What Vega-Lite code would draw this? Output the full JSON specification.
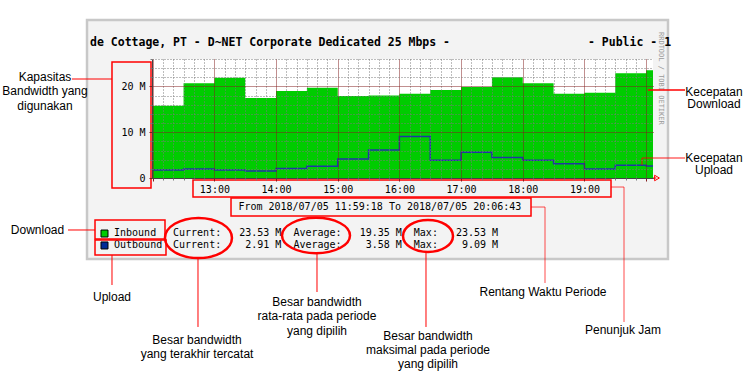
{
 "$schema": "https://vega.github.io/schema/vega-lite/v6.json",
 "width": 501, "height": 119,
 "autosize": {"type": "none"},
 "padding": {"left": 152, "top": 59, "right": 102, "bottom": 197},
 "background": "#ffffff",
 "config": {
  "view": {"stroke": null},
  "style": {
   "ann": {"fill": "#ff0000", "font": "Liberation Sans", "fontSize": 12, "align": "center", "baseline": "middle"},
   "mono": {"fill": "#000000", "font": "DejaVu Sans Mono", "fontSize": 10, "align": "left", "baseline": "middle"}
  }
 },
 "resolve": {"axis": {"x": "independent", "y": "independent"}},
 "datasets": {
  "traffic": [
   {"time": "2018-07-05T11:59:18", "inbound": 15.8, "outbound": 1.75},
   {"time": "2018-07-05T12:30:00", "inbound": 20.7, "outbound": 1.97},
   {"time": "2018-07-05T13:00:00", "inbound": 21.9, "outbound": 1.75},
   {"time": "2018-07-05T13:30:00", "inbound": 17.5, "outbound": 1.53},
   {"time": "2018-07-05T14:00:00", "inbound": 19.0, "outbound": 2.1},
   {"time": "2018-07-05T14:30:00", "inbound": 19.7, "outbound": 2.55},
   {"time": "2018-07-05T15:00:00", "inbound": 17.9, "outbound": 4.15},
   {"time": "2018-07-05T15:30:00", "inbound": 18.0, "outbound": 6.1},
   {"time": "2018-07-05T16:00:00", "inbound": 18.4, "outbound": 9.09},
   {"time": "2018-07-05T16:30:00", "inbound": 19.2, "outbound": 3.9},
   {"time": "2018-07-05T17:00:00", "inbound": 19.9, "outbound": 5.6},
   {"time": "2018-07-05T17:30:00", "inbound": 22.0, "outbound": 4.5},
   {"time": "2018-07-05T18:00:00", "inbound": 20.7, "outbound": 3.9},
   {"time": "2018-07-05T18:30:00", "inbound": 18.4, "outbound": 3.1},
   {"time": "2018-07-05T19:00:00", "inbound": 18.6, "outbound": 1.97},
   {"time": "2018-07-05T19:30:00", "inbound": 22.9, "outbound": 2.8},
   {"time": "2018-07-05T20:00:00", "inbound": 23.53, "outbound": 2.6},
   {"time": "2018-07-05T20:06:43", "inbound": 23.53, "outbound": 2.6}
  ],
  "one": [{}]
 },
 "layer": [
  {"data": {"name": "one"}, "mark": {"type": "rect", "fill": "#f3f3f3", "stroke": "#c8c8c8", "strokeWidth": 2.5},
   "encoding": {
    "x": {"datum": {"year": 2018, "month": 7, "date": 5, "hours": 10, "minutes": 56, "seconds": 4}, "type": "temporal", "axis": null},
    "x2": {"datum": {"year": 2018, "month": 7, "date": 5, "hours": 20, "minutes": 21, "seconds": 18}},
    "y": {"datum": -17.7, "type": "quantitative", "axis": null},
    "y2": {"datum": 34.52}}},
  {"data": {"name": "one"}, "mark": {"type": "rect", "fill": "#ffffff"},
   "encoding": {
    "x": {"datum": {"year": 2018, "month": 7, "date": 5, "hours": 11, "minutes": 59, "seconds": 18}, "type": "temporal", "axis": null},
    "x2": {"datum": {"year": 2018, "month": 7, "date": 5, "hours": 20, "minutes": 6, "seconds": 43}},
    "y": {"datum": 0, "type": "quantitative", "axis": null},
    "y2": {"datum": 26}}},
  {"data": {"name": "traffic"}, "mark": {"type": "area", "interpolate": "step-after", "color": "#00cc00"},
   "encoding": {
    "x": {"field": "time", "type": "temporal", "title": null,
     "scale": {"domain": [{"year": 2018, "month": 7, "date": 5, "hours": 11, "minutes": 59, "seconds": 18}, {"year": 2018, "month": 7, "date": 5, "hours": 20, "minutes": 6, "seconds": 43}], "nice": false},
     "axis": {"orient": "bottom", "title": null, "zindex": 1, "grid": true,
      "values": [
       {"year": 2018, "month": 7, "date": 5, "hours": 12, "minutes": 0},
       {"year": 2018, "month": 7, "date": 5, "hours": 13, "minutes": 0},
       {"year": 2018, "month": 7, "date": 5, "hours": 14, "minutes": 0},
       {"year": 2018, "month": 7, "date": 5, "hours": 15, "minutes": 0},
       {"year": 2018, "month": 7, "date": 5, "hours": 16, "minutes": 0},
       {"year": 2018, "month": 7, "date": 5, "hours": 17, "minutes": 0},
       {"year": 2018, "month": 7, "date": 5, "hours": 18, "minutes": 0},
       {"year": 2018, "month": 7, "date": 5, "hours": 19, "minutes": 0},
       {"year": 2018, "month": 7, "date": 5, "hours": 20, "minutes": 0}],
      "format": "%H:%M",
      "labelExpr": "datum.label == '12:00' || datum.label == '20:00' ? '' : datum.label",
      "gridColor": "#821e1e", "gridDash": [1, 1], "gridOpacity": 1, "gridWidth": 1,
      "tickColor": "#821e1e", "tickSize": 3,
      "labelFont": "DejaVu Sans Mono", "labelFontSize": 10, "labelColor": "#000000", "labelPadding": 3,
      "labelOverlap": false, "labelBound": false, "labelFlush": false,
      "domainColor": "#444444", "domainWidth": 1}},
    "y": {"field": "inbound", "type": "quantitative", "title": null,
     "scale": {"domain": [0, 26], "nice": false, "zero": true},
     "axis": {"orient": "left", "title": null, "zindex": 1, "values": [0, 10, 20], "grid": true,
      "gridColor": "#821e1e", "gridDash": [1, 1], "gridOpacity": 1, "gridWidth": 1,
      "tickColor": "#821e1e", "tickSize": 3,
      "labelExpr": "datum.value == 0 ? '0' : datum.label + ' M'",
      "labelFont": "DejaVu Sans Mono", "labelFontSize": 10, "labelColor": "#000000", "labelPadding": 4,
      "labelOverlap": false, "labelBound": false, "labelFlush": false,
      "domainColor": "#444444", "domainWidth": 1}}}},
  {"data": {"name": "traffic"}, "mark": {"type": "line", "interpolate": "step-after", "color": "#1f35a5", "strokeWidth": 1.5},
   "encoding": {
    "x": {"field": "time", "type": "temporal",
     "axis": {"orient": "bottom", "title": null, "zindex": 1, "grid": true, "labels": false, "domain": false,
      "values": [
       {"year": 2018, "month": 7, "date": 5, "hours": 12, "minutes": 10}, {"year": 2018, "month": 7, "date": 5, "hours": 12, "minutes": 20}, {"year": 2018, "month": 7, "date": 5, "hours": 12, "minutes": 30}, {"year": 2018, "month": 7, "date": 5, "hours": 12, "minutes": 40}, {"year": 2018, "month": 7, "date": 5, "hours": 12, "minutes": 50},
       {"year": 2018, "month": 7, "date": 5, "hours": 13, "minutes": 10}, {"year": 2018, "month": 7, "date": 5, "hours": 13, "minutes": 20}, {"year": 2018, "month": 7, "date": 5, "hours": 13, "minutes": 30}, {"year": 2018, "month": 7, "date": 5, "hours": 13, "minutes": 40}, {"year": 2018, "month": 7, "date": 5, "hours": 13, "minutes": 50},
       {"year": 2018, "month": 7, "date": 5, "hours": 14, "minutes": 10}, {"year": 2018, "month": 7, "date": 5, "hours": 14, "minutes": 20}, {"year": 2018, "month": 7, "date": 5, "hours": 14, "minutes": 30}, {"year": 2018, "month": 7, "date": 5, "hours": 14, "minutes": 40}, {"year": 2018, "month": 7, "date": 5, "hours": 14, "minutes": 50},
       {"year": 2018, "month": 7, "date": 5, "hours": 15, "minutes": 10}, {"year": 2018, "month": 7, "date": 5, "hours": 15, "minutes": 20}, {"year": 2018, "month": 7, "date": 5, "hours": 15, "minutes": 30}, {"year": 2018, "month": 7, "date": 5, "hours": 15, "minutes": 40}, {"year": 2018, "month": 7, "date": 5, "hours": 15, "minutes": 50},
       {"year": 2018, "month": 7, "date": 5, "hours": 16, "minutes": 10}, {"year": 2018, "month": 7, "date": 5, "hours": 16, "minutes": 20}, {"year": 2018, "month": 7, "date": 5, "hours": 16, "minutes": 30}, {"year": 2018, "month": 7, "date": 5, "hours": 16, "minutes": 40}, {"year": 2018, "month": 7, "date": 5, "hours": 16, "minutes": 50},
       {"year": 2018, "month": 7, "date": 5, "hours": 17, "minutes": 10}, {"year": 2018, "month": 7, "date": 5, "hours": 17, "minutes": 20}, {"year": 2018, "month": 7, "date": 5, "hours": 17, "minutes": 30}, {"year": 2018, "month": 7, "date": 5, "hours": 17, "minutes": 40}, {"year": 2018, "month": 7, "date": 5, "hours": 17, "minutes": 50},
       {"year": 2018, "month": 7, "date": 5, "hours": 18, "minutes": 10}, {"year": 2018, "month": 7, "date": 5, "hours": 18, "minutes": 20}, {"year": 2018, "month": 7, "date": 5, "hours": 18, "minutes": 30}, {"year": 2018, "month": 7, "date": 5, "hours": 18, "minutes": 40}, {"year": 2018, "month": 7, "date": 5, "hours": 18, "minutes": 50},
       {"year": 2018, "month": 7, "date": 5, "hours": 19, "minutes": 10}, {"year": 2018, "month": 7, "date": 5, "hours": 19, "minutes": 20}, {"year": 2018, "month": 7, "date": 5, "hours": 19, "minutes": 30}, {"year": 2018, "month": 7, "date": 5, "hours": 19, "minutes": 40}, {"year": 2018, "month": 7, "date": 5, "hours": 19, "minutes": 50}],
      "gridColor": "#7a7a7a", "gridDash": [1, 2], "gridOpacity": 1, "gridWidth": 1,
      "tickColor": "#7a7a7a", "tickSize": 2}},
    "y": {"field": "outbound", "type": "quantitative",
     "axis": {"orient": "left", "title": null, "zindex": 1, "grid": true, "labels": false, "domain": false,
      "values": [2, 4, 6, 8, 12, 14, 16, 18, 22, 24, 26],
      "gridColor": "#7a7a7a", "gridDash": [1, 2], "gridOpacity": 1, "gridWidth": 1,
      "tickColor": "#7a7a7a", "tickSize": 2}}}},

  {"data": {"name": "one"}, "mark": {"type": "rule", "color": "#ff0000", "strokeWidth": 1},
   "encoding": {
    "x": {"datum": {"year": 2018, "month": 7, "date": 5, "hours": 20, "minutes": 6, "seconds": 43}, "type": "temporal", "axis": null},
    "x2": {"datum": {"year": 2018, "month": 7, "date": 5, "hours": 20, "minutes": 10, "seconds": 0}},
    "y": {"datum": 0, "type": "quantitative", "axis": null}}},
  {"data": {"name": "one"}, "mark": {"type": "point", "shape": "triangle-right", "size": 30, "filled": false, "stroke": "#ff0000", "strokeWidth": 1, "opacity": 1},
   "encoding": {
    "x": {"datum": {"year": 2018, "month": 7, "date": 5, "hours": 20, "minutes": 10, "seconds": 36}, "type": "temporal", "axis": null},
    "y": {"datum": 0, "type": "quantitative", "axis": null}}},

  {"data": {"name": "one"}, "mark": {"type": "text", "style": "mono", "fontSize": 11.5, "fontWeight": "bold", "text": "de Cottage, PT - D~NET Corporate Dedicated 25 Mbps -"},
   "encoding": {
    "x": {"datum": {"year": 2018, "month": 7, "date": 5, "hours": 10, "minutes": 59, "seconds": 0}, "type": "temporal", "axis": null},
    "y": {"datum": 29.5, "type": "quantitative", "axis": null}}},
  {"data": {"name": "one"}, "mark": {"type": "text", "style": "mono", "fontSize": 11.5, "fontWeight": "bold", "text": "- Public - 1"},
   "encoding": {
    "x": {"datum": {"year": 2018, "month": 7, "date": 5, "hours": 19, "minutes": 3, "seconds": 29}, "type": "temporal", "axis": null},
    "y": {"datum": 29.5, "type": "quantitative", "axis": null}}},
  {"data": {"name": "one"}, "mark": {"type": "text", "style": "mono", "fontSize": 7, "fill": "#9a9a9a", "angle": 90, "text": "RRDTOOL / TOBI OETIKER"},
   "encoding": {
    "x": {"datum": {"year": 2018, "month": 7, "date": 5, "hours": 20, "minutes": 14, "seconds": 30}, "type": "temporal", "axis": null},
    "y": {"datum": 31.9, "type": "quantitative", "axis": null}}},
  {"data": {"name": "one"}, "mark": {"type": "text", "style": "mono", "align": "center", "text": "From 2018/07/05 11:59:18 To 2018/07/05 20:06:43"},
   "encoding": {
    "x": {"datum": {"year": 2018, "month": 7, "date": 5, "hours": 15, "minutes": 41, "seconds": 0}, "type": "temporal", "axis": null},
    "y": {"datum": -6.34, "type": "quantitative", "axis": null}}},
  {"data": {"name": "one"}, "mark": {"type": "point", "shape": "square", "size": 49, "filled": true, "fill": "#00cc00", "stroke": "#000000", "strokeWidth": 1, "opacity": 1},
   "encoding": {
    "x": {"datum": {"year": 2018, "month": 7, "date": 5, "hours": 11, "minutes": 13, "seconds": 5}, "type": "temporal", "axis": null},
    "y": {"datum": -12.13, "type": "quantitative", "axis": null}}},
  {"data": {"name": "one"}, "mark": {"type": "point", "shape": "square", "size": 49, "filled": true, "fill": "#002a97", "stroke": "#000000", "strokeWidth": 1, "opacity": 1},
   "encoding": {
    "x": {"datum": {"year": 2018, "month": 7, "date": 5, "hours": 11, "minutes": 13, "seconds": 5}, "type": "temporal", "axis": null},
    "y": {"datum": -14.74, "type": "quantitative", "axis": null}}},
  {"data": {"name": "one"}, "mark": {"type": "text", "style": "mono", "text": "Inbound"},
   "encoding": {
    "x": {"datum": {"year": 2018, "month": 7, "date": 5, "hours": 11, "minutes": 22, "seconds": 20}, "type": "temporal", "axis": null},
    "y": {"datum": -12.02, "type": "quantitative", "axis": null}}},
  {"data": {"name": "one"}, "mark": {"type": "text", "style": "mono", "text": "Outbound"},
   "encoding": {
    "x": {"datum": {"year": 2018, "month": 7, "date": 5, "hours": 11, "minutes": 22, "seconds": 20}, "type": "temporal", "axis": null},
    "y": {"datum": -14.64, "type": "quantitative", "axis": null}}},
  {"data": {"name": "one"}, "mark": {"type": "text", "style": "mono", "text": "Current:\u00a0\u00a0\u00a023.53\u00a0M\u00a0\u00a0Average:\u00a0\u00a0\u00a019.35\u00a0M\u00a0\u00a0Max:\u00a0\u00a0\u00a023.53\u00a0M"},
   "encoding": {
    "x": {"datum": {"year": 2018, "month": 7, "date": 5, "hours": 12, "minutes": 19, "seconds": 44}, "type": "temporal", "axis": null},
    "y": {"datum": -12.02, "type": "quantitative", "axis": null}}},
  {"data": {"name": "one"}, "mark": {"type": "text", "style": "mono", "text": "Current:\u00a0\u00a0\u00a0\u00a02.91\u00a0M\u00a0\u00a0Average:\u00a0\u00a0\u00a0\u00a03.58\u00a0M\u00a0\u00a0Max:\u00a0\u00a0\u00a0\u00a09.09\u00a0M"},
   "encoding": {
    "x": {"datum": {"year": 2018, "month": 7, "date": 5, "hours": 12, "minutes": 19, "seconds": 44}, "type": "temporal", "axis": null},
    "y": {"datum": -14.64, "type": "quantitative", "axis": null}}},

  {"data": {"name": "one"}, "mark": {"type": "rect", "filled": false, "color": "#ff0000", "strokeWidth": 1.5},
   "encoding": {
    "x": {"datum": {"year": 2018, "month": 7, "date": 5, "hours": 11, "minutes": 20, "seconds": 23}, "type": "temporal", "axis": null},
    "x2": {"datum": {"year": 2018, "month": 7, "date": 5, "hours": 11, "minutes": 58, "seconds": 20}},
    "y": {"datum": 25.34, "type": "quantitative", "axis": null},
    "y2": {"datum": -2.18}}},
  {"data": {"name": "one"}, "mark": {"type": "rect", "filled": false, "color": "#ff0000", "strokeWidth": 1.5},
   "encoding": {
    "x": {"datum": {"year": 2018, "month": 7, "date": 5, "hours": 12, "minutes": 39, "seconds": 11}, "type": "temporal", "axis": null},
    "x2": {"datum": {"year": 2018, "month": 7, "date": 5, "hours": 19, "minutes": 25, "seconds": 52}},
    "y": {"datum": -0.44, "type": "quantitative", "axis": null},
    "y2": {"datum": -4.15}}},
  {"data": {"name": "one"}, "mark": {"type": "rect", "filled": false, "color": "#ff0000", "strokeWidth": 1.5},
   "encoding": {
    "x": {"datum": {"year": 2018, "month": 7, "date": 5, "hours": 13, "minutes": 16, "seconds": 10}, "type": "temporal", "axis": null},
    "x2": {"datum": {"year": 2018, "month": 7, "date": 5, "hours": 18, "minutes": 8, "seconds": 2}},
    "y": {"datum": -4.37, "type": "quantitative", "axis": null},
    "y2": {"datum": -8.3}}},
  {"data": {"name": "one"}, "mark": {"type": "rect", "filled": false, "color": "#ff0000", "strokeWidth": 1.5},
   "encoding": {
    "x": {"datum": {"year": 2018, "month": 7, "date": 5, "hours": 11, "minutes": 3, "seconds": 51}, "type": "temporal", "axis": null},
    "x2": {"datum": {"year": 2018, "month": 7, "date": 5, "hours": 12, "minutes": 11, "seconds": 57}},
    "y": {"datum": -9.18, "type": "quantitative", "axis": null},
    "y2": {"datum": -13.33}}},
  {"data": {"name": "one"}, "mark": {"type": "rect", "filled": false, "color": "#ff0000", "strokeWidth": 1.5},
   "encoding": {
    "x": {"datum": {"year": 2018, "month": 7, "date": 5, "hours": 11, "minutes": 3, "seconds": 51}, "type": "temporal", "axis": null},
    "x2": {"datum": {"year": 2018, "month": 7, "date": 5, "hours": 12, "minutes": 12, "seconds": 55}},
    "y": {"datum": -13.55, "type": "quantitative", "axis": null},
    "y2": {"datum": -16.82}}},

  {"data": {"name": "one"}, "mark": {"type": "point", "shape": "M-1,0A1,0.6,0,1,1,1,0A1,0.6,0,1,1,-1,0Z", "size": 4489, "filled": false, "stroke": "#ff0000", "strokeWidth": 2.5, "opacity": 1},
   "encoding": {
    "x": {"datum": {"year": 2018, "month": 7, "date": 5, "hours": 12, "minutes": 44, "seconds": 30}, "type": "temporal", "axis": null},
    "y": {"datum": -13.11, "type": "quantitative", "axis": null}}},
  {"data": {"name": "one"}, "mark": {"type": "point", "shape": "M-1,0A1,0.52,0,1,1,1,0A1,0.52,0,1,1,-1,0Z", "size": 4624, "filled": false, "stroke": "#ff0000", "strokeWidth": 2.5, "opacity": 1},
   "encoding": {
    "x": {"datum": {"year": 2018, "month": 7, "date": 5, "hours": 14, "minutes": 38, "seconds": 51}, "type": "temporal", "axis": null},
    "y": {"datum": -12.56, "type": "quantitative", "axis": null}}},
  {"data": {"name": "one"}, "mark": {"type": "point", "shape": "M-1,0A1,0.64,0,1,1,1,0A1,0.64,0,1,1,-1,0Z", "size": 2500, "filled": false, "stroke": "#ff0000", "strokeWidth": 2.5, "opacity": 1},
   "encoding": {
    "x": {"datum": {"year": 2018, "month": 7, "date": 5, "hours": 16, "minutes": 27, "seconds": 49}, "type": "temporal", "axis": null},
    "y": {"datum": -12.67, "type": "quantitative", "axis": null}}},

  {"data": {"name": "one"}, "mark": {"type": "rule", "color": "#ff0000", "strokeWidth": 1},
   "encoding": {
    "x": {"datum": {"year": 2018, "month": 7, "date": 5, "hours": 10, "minutes": 41, "seconds": 28}, "type": "temporal", "axis": null},
    "x2": {"datum": {"year": 2018, "month": 7, "date": 5, "hours": 11, "minutes": 20, "seconds": 23}},
    "y": {"datum": 21.63, "type": "quantitative", "axis": null}}},
  {"data": {"name": "one"}, "mark": {"type": "rule", "color": "#ff0000", "strokeWidth": 1.5},
   "encoding": {
    "x": {"datum": {"year": 2018, "month": 7, "date": 5, "hours": 20, "minutes": 1, "seconds": 52}, "type": "temporal", "axis": null},
    "x2": {"datum": {"year": 2018, "month": 7, "date": 5, "hours": 20, "minutes": 37, "seconds": 51}},
    "y": {"datum": 19.23, "type": "quantitative", "axis": null}}},
  {"data": {"name": "one"}, "mark": {"type": "rule", "color": "#ff0000", "strokeWidth": 1.5, "opacity": 0.6},
   "encoding": {
    "x": {"datum": {"year": 2018, "month": 7, "date": 5, "hours": 19, "minutes": 56, "seconds": 1}, "type": "temporal", "axis": null},
    "x2": {"datum": {"year": 2018, "month": 7, "date": 5, "hours": 20, "minutes": 37, "seconds": 51}},
    "y": {"datum": 4.37, "type": "quantitative", "axis": null}}},
  {"data": {"name": "one"}, "mark": {"type": "rule", "color": "#ff0000", "strokeWidth": 1.5, "opacity": 0.6},
   "encoding": {
    "x": {"datum": {"year": 2018, "month": 7, "date": 5, "hours": 19, "minutes": 56, "seconds": 1}, "type": "temporal", "axis": null},
    "y": {"datum": 4.37, "type": "quantitative", "axis": null},
    "y2": {"datum": 2.84}}},
  {"data": {"name": "one"}, "mark": {"type": "rule", "color": "#ff0000", "strokeWidth": 1, "opacity": 0.7},
   "encoding": {
    "x": {"datum": {"year": 2018, "month": 7, "date": 5, "hours": 19, "minutes": 25, "seconds": 52}, "type": "temporal", "axis": null},
    "x2": {"datum": {"year": 2018, "month": 7, "date": 5, "hours": 19, "minutes": 38, "seconds": 31}},
    "y": {"datum": -1.97, "type": "quantitative", "axis": null}}},
  {"data": {"name": "one"}, "mark": {"type": "rule", "color": "#ff0000", "strokeWidth": 1, "opacity": 0.7},
   "encoding": {
    "x": {"datum": {"year": 2018, "month": 7, "date": 5, "hours": 19, "minutes": 38, "seconds": 31}, "type": "temporal", "axis": null},
    "y": {"datum": -1.97, "type": "quantitative", "axis": null},
    "y2": {"datum": -31.46}}},
  {"data": {"name": "one"}, "mark": {"type": "rule", "color": "#ff0000", "strokeWidth": 1, "opacity": 0.7},
   "encoding": {
    "x": {"datum": {"year": 2018, "month": 7, "date": 5, "hours": 18, "minutes": 8, "seconds": 2}, "type": "temporal", "axis": null},
    "x2": {"datum": {"year": 2018, "month": 7, "date": 5, "hours": 18, "minutes": 21, "seconds": 39}},
    "y": {"datum": -6.34, "type": "quantitative", "axis": null}}},
  {"data": {"name": "one"}, "mark": {"type": "rule", "color": "#ff0000", "strokeWidth": 1, "opacity": 0.7},
   "encoding": {
    "x": {"datum": {"year": 2018, "month": 7, "date": 5, "hours": 18, "minutes": 21, "seconds": 39}, "type": "temporal", "axis": null},
    "y": {"datum": -6.34, "type": "quantitative", "axis": null},
    "y2": {"datum": -22.94}}},
  {"data": {"name": "one"}, "mark": {"type": "rule", "color": "#ff0000", "strokeWidth": 1},
   "encoding": {
    "x": {"datum": {"year": 2018, "month": 7, "date": 5, "hours": 10, "minutes": 37, "seconds": 35}, "type": "temporal", "axis": null},
    "x2": {"datum": {"year": 2018, "month": 7, "date": 5, "hours": 11, "minutes": 3, "seconds": 51}},
    "y": {"datum": -11.36, "type": "quantitative", "axis": null}}},
  {"data": {"name": "one"}, "mark": {"type": "rule", "color": "#ff0000", "strokeWidth": 1},
   "encoding": {
    "x": {"datum": {"year": 2018, "month": 7, "date": 5, "hours": 11, "minutes": 20, "seconds": 23}, "type": "temporal", "axis": null},
    "y": {"datum": -16.82, "type": "quantitative", "axis": null},
    "y2": {"datum": -23.38}}},
  {"data": {"name": "one"}, "mark": {"type": "rule", "color": "#ff0000", "strokeWidth": 1},
   "encoding": {
    "x": {"datum": {"year": 2018, "month": 7, "date": 5, "hours": 12, "minutes": 44, "seconds": 3}, "type": "temporal", "axis": null},
    "y": {"datum": -17.48, "type": "quantitative", "axis": null},
    "y2": {"datum": -32.55}}},
  {"data": {"name": "one"}, "mark": {"type": "rule", "color": "#ff0000", "strokeWidth": 1},
   "encoding": {
    "x": {"datum": {"year": 2018, "month": 7, "date": 5, "hours": 14, "minutes": 39, "seconds": 49}, "type": "temporal", "axis": null},
    "y": {"datum": -16.39, "type": "quantitative", "axis": null},
    "y2": {"datum": -24.91}}},
  {"data": {"name": "one"}, "mark": {"type": "rule", "color": "#ff0000", "strokeWidth": 1},
   "encoding": {
    "x": {"datum": {"year": 2018, "month": 7, "date": 5, "hours": 16, "minutes": 25, "seconds": 52}, "type": "temporal", "axis": null},
    "y": {"datum": -16.17, "type": "quantitative", "axis": null},
    "y2": {"datum": -32.55}}},

  {"data": {"name": "one"}, "mark": {"type": "text", "style": "ann", "lineHeight": 14.5, "text": ["Kapasitas", "Bandwidth yang", "digunakan"]},
   "encoding": {
    "x": {"datum": {"year": 2018, "month": 7, "date": 5, "hours": 10, "minutes": 15, "seconds": 12}, "type": "temporal", "axis": null},
    "y": {"datum": 22.07, "type": "quantitative", "axis": null}}},
  {"data": {"name": "one"}, "mark": {"type": "text", "style": "ann", "lineHeight": 12.5, "text": ["Kecepatan", "Download"]},
   "encoding": {
    "x": {"datum": {"year": 2018, "month": 7, "date": 5, "hours": 21, "minutes": 6, "seconds": 4}, "type": "temporal", "axis": null},
    "y": {"datum": 18.79, "type": "quantitative", "axis": null}}},
  {"data": {"name": "one"}, "mark": {"type": "text", "style": "ann", "lineHeight": 12.5, "text": ["Kecepatan", "Upload"]},
   "encoding": {
    "x": {"datum": {"year": 2018, "month": 7, "date": 5, "hours": 21, "minutes": 6, "seconds": 4}, "type": "temporal", "axis": null},
    "y": {"datum": 4.37, "type": "quantitative", "axis": null}}},
  {"data": {"name": "one"}, "mark": {"type": "text", "style": "ann", "text": "Download"},
   "encoding": {
    "x": {"datum": {"year": 2018, "month": 7, "date": 5, "hours": 10, "minutes": 7, "seconds": 54}, "type": "temporal", "axis": null},
    "y": {"datum": -11.36, "type": "quantitative", "axis": null}}},
  {"data": {"name": "one"}, "mark": {"type": "text", "style": "ann", "text": "Upload"},
   "encoding": {
    "x": {"datum": {"year": 2018, "month": 7, "date": 5, "hours": 11, "minutes": 20, "seconds": 23}, "type": "temporal", "axis": null},
    "y": {"datum": -26.0, "type": "quantitative", "axis": null}}},
  {"data": {"name": "one"}, "mark": {"type": "text", "style": "ann", "lineHeight": 14, "text": ["Besar bandwidth", "yang terakhir tercatat"]},
   "encoding": {
    "x": {"datum": {"year": 2018, "month": 7, "date": 5, "hours": 12, "minutes": 43, "seconds": 6}, "type": "temporal", "axis": null},
    "y": {"datum": -35.39, "type": "quantitative", "axis": null}}},
  {"data": {"name": "one"}, "mark": {"type": "text", "style": "ann", "lineHeight": 14.5, "text": ["Besar bandwidth", "rata-rata pada periode", "yang dipilih"]},
   "encoding": {
    "x": {"datum": {"year": 2018, "month": 7, "date": 5, "hours": 14, "minutes": 39, "seconds": 49}, "type": "temporal", "axis": null},
    "y": {"datum": -27.09, "type": "quantitative", "axis": null}}},
  {"data": {"name": "one"}, "mark": {"type": "text", "style": "ann", "lineHeight": 14, "text": ["Besar bandwidth", "maksimal pada periode", "yang dipilih"]},
   "encoding": {
    "x": {"datum": {"year": 2018, "month": 7, "date": 5, "hours": 16, "minutes": 27, "seconds": 49}, "type": "temporal", "axis": null},
    "y": {"datum": -34.52, "type": "quantitative", "axis": null}}},
  {"data": {"name": "one"}, "mark": {"type": "text", "style": "ann", "text": "Rentang Waktu Periode"},
   "encoding": {
    "x": {"datum": {"year": 2018, "month": 7, "date": 5, "hours": 18, "minutes": 19, "seconds": 42}, "type": "temporal", "axis": null},
    "y": {"datum": -24.91, "type": "quantitative", "axis": null}}},
  {"data": {"name": "one"}, "mark": {"type": "text", "style": "ann", "text": "Penunjuk Jam"},
   "encoding": {
    "x": {"datum": {"year": 2018, "month": 7, "date": 5, "hours": 19, "minutes": 37, "seconds": 30}, "type": "temporal", "axis": null},
    "y": {"datum": -33.21, "type": "quantitative", "axis": null}}}
 ]
}
